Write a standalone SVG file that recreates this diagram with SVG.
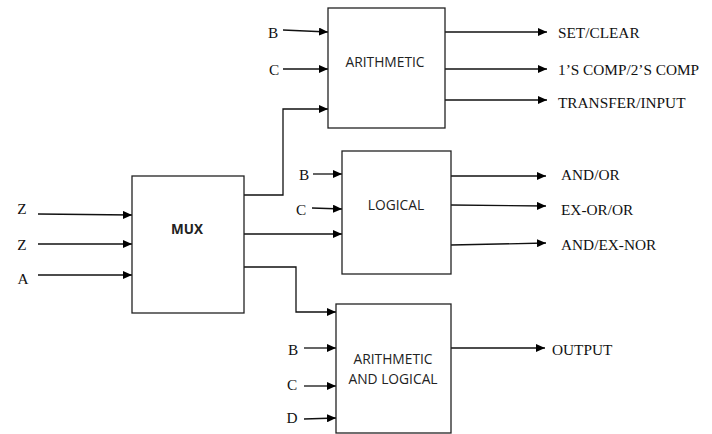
<svg xmlns="http://www.w3.org/2000/svg" width="712" height="434" viewBox="0 0 712 434">
<defs>
<marker id="ah" markerWidth="9" markerHeight="8" refX="9" refY="4" orient="auto" markerUnits="userSpaceOnUse">
<path d="M0,0 L9,4 L0,8 Z" fill="#000"/>
</marker>
</defs>
<style>
.box{fill:#fff;stroke:#222;stroke-width:1.3}
.ar{fill:none;stroke:#111;stroke-width:1.3;marker-end:url(#ah)}
.lb{font-family:"Liberation Serif",serif;font-size:15.3px;fill:#111}
.bt{font-family:"Open Sans","Liberation Sans",sans-serif;font-size:13.8px;fill:#222}
</style>
<rect width="712" height="434" fill="#fff"/>
<g id="connectors">
<path class="ar" d="M283,30 L328,32"/>
<path class="ar" d="M283,69 L328,69"/>
<path class="ar" d="M244,195 L283,195 L283,109 L328,109"/>
<path class="ar" d="M445,32 L547,32"/>
<path class="ar" d="M445,69 L547,69"/>
<path class="ar" d="M445,100 L547,100"/>
<path class="ar" d="M38,214 L132,215"/>
<path class="ar" d="M38,244 L132,244"/>
<path class="ar" d="M38,275 L132,275"/>
<path class="ar" d="M313,174 L342,174"/>
<path class="ar" d="M312,208 L342,209"/>
<path class="ar" d="M244,234 L342,234"/>
<path class="ar" d="M451,176 L546,176"/>
<path class="ar" d="M451,205 L546,206"/>
<path class="ar" d="M451,245 L546,243"/>
<path class="ar" d="M244,267 L296,267 L296,312 L336,312"/>
<path class="ar" d="M304,348 L336,348"/>
<path class="ar" d="M304,386 L336,386"/>
<path class="ar" d="M304,419 L336,418"/>
<path class="ar" d="M451,348 L545,348"/>
</g>
<g id="arithmetic">
<rect class="box" x="328" y="8" width="117" height="120"/>
<text class="bt" x="385" y="67" text-anchor="middle">ARITHMETIC</text>
</g>
<g id="mux">
<rect class="box" x="132" y="176" width="112" height="137"/>
<text class="bt" x="187" y="234" text-anchor="middle" font-weight="bold" style="font-size:13.5px">MUX</text>
</g>
<g id="logical">
<rect class="box" x="342" y="151" width="109" height="123"/>
<text class="bt" x="396" y="210" text-anchor="middle">LOGICAL</text>
</g>
<g id="arith-logical">
<rect class="box" x="336" y="304" width="115" height="129"/>
<text class="bt" x="393" y="364" text-anchor="middle">ARITHMETIC</text>
<text class="bt" x="393" y="384" text-anchor="middle">AND LOGICAL</text>
</g>
<g id="labels">
<text class="lb" x="273" y="38" text-anchor="middle">B</text>
<text class="lb" x="274" y="75" text-anchor="middle">C</text>
<text class="lb" x="558" y="38">SET/CLEAR</text>
<text class="lb" x="558" y="75">1’S COMP/2’S COMP</text>
<text class="lb" x="558" y="108">TRANSFER/INPUT</text>
<text class="lb" x="22" y="214" text-anchor="middle">Z</text>
<text class="lb" x="22" y="250" text-anchor="middle">Z</text>
<text class="lb" x="23" y="284" text-anchor="middle">A</text>
<text class="lb" x="304" y="180" text-anchor="middle">B</text>
<text class="lb" x="301" y="215" text-anchor="middle">C</text>
<text class="lb" x="561" y="180">AND/OR</text>
<text class="lb" x="561" y="215">EX-OR/OR</text>
<text class="lb" x="561" y="250">AND/EX-NOR</text>
<text class="lb" x="293" y="355" text-anchor="middle">B</text>
<text class="lb" x="292" y="390" text-anchor="middle">C</text>
<text class="lb" x="292" y="423" text-anchor="middle">D</text>
<text class="lb" x="552" y="355">OUTPUT</text>
</g>
</svg>
